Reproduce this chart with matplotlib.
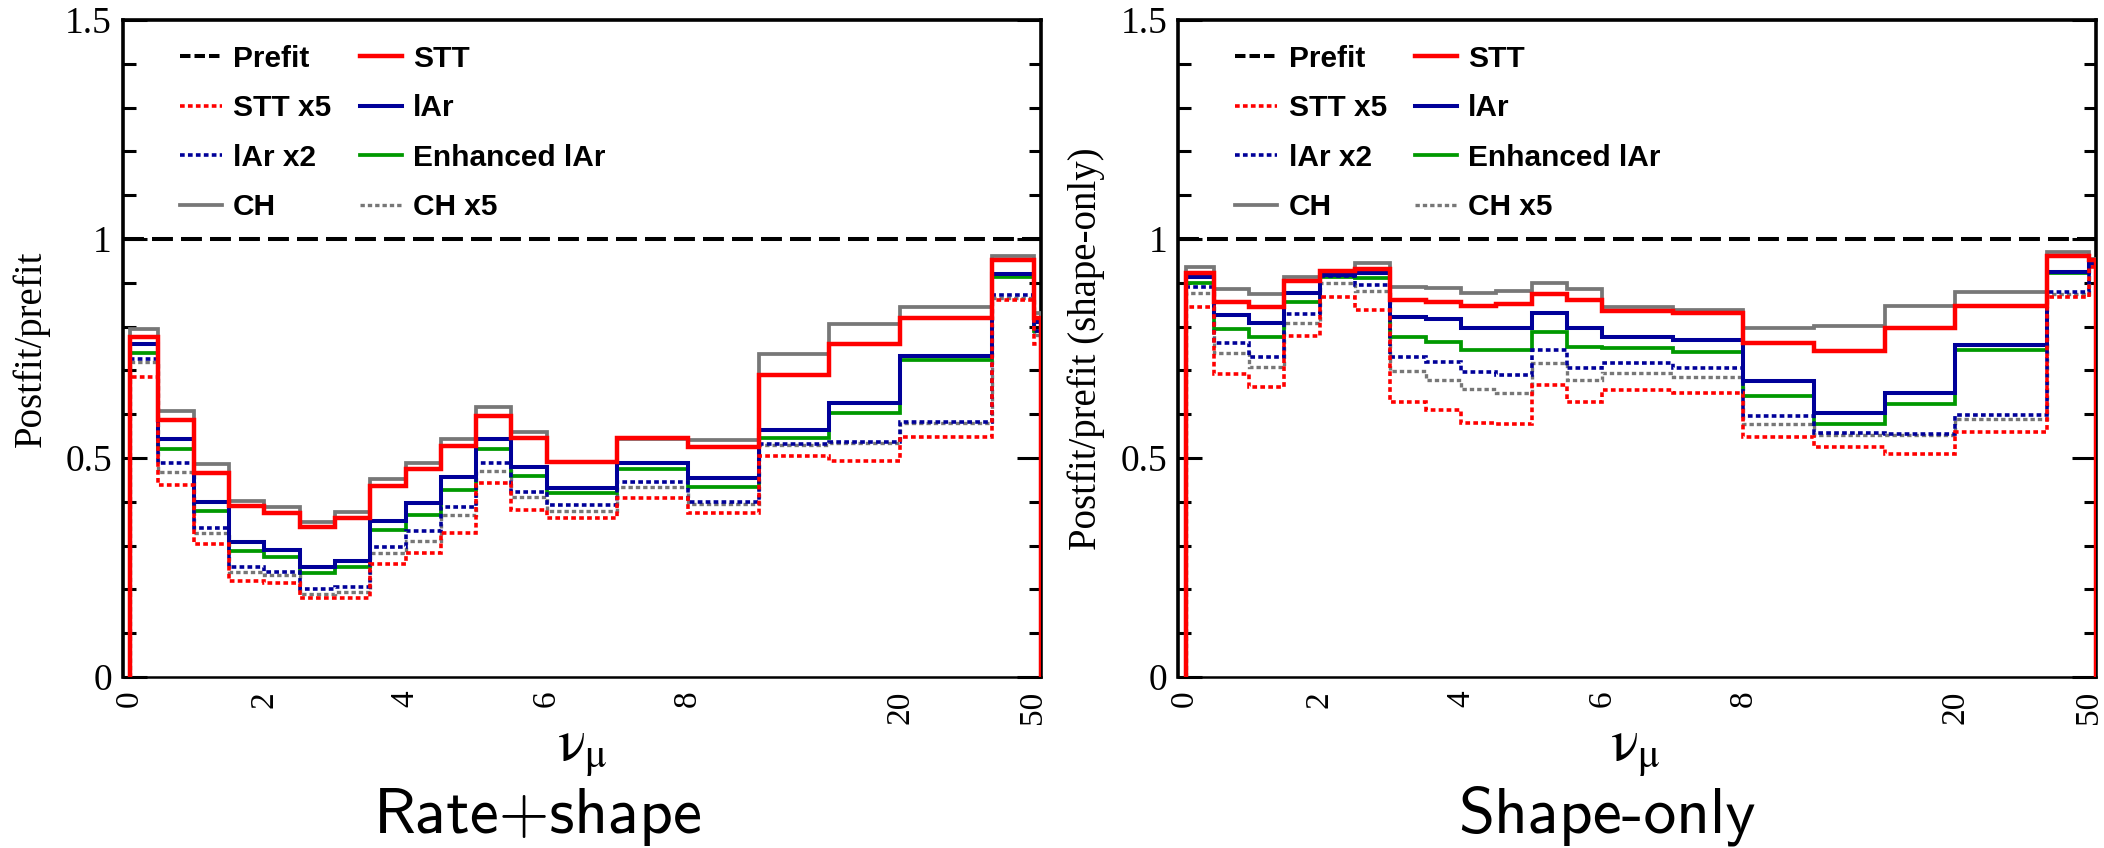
import matplotlib
matplotlib.use('Agg')
import matplotlib.pyplot as plt
from matplotlib.lines import Line2D
from matplotlib.ticker import MultipleLocator, FixedLocator
from matplotlib.transforms import ScaledTranslation

plt.rcParams['mathtext.fontset'] = 'stix'

# bin edges on the (compressed) display axis; labels mark 0..8, 20 and 50 GeV
bin_edges = [0.1, 0.5, 1.0, 1.5, 2.0, 2.5, 3.0, 3.5, 4.0, 4.5, 5.0, 5.5, 6.0,
             7.0, 8.0, 9.0, 10.0, 11.0, 12.3, 12.9, 13.0]
tick_pos = [0, 2, 4, 6, 8, 11, 13]
tick_labels = ['0', '2', '4', '6', '8', '20', '50']

# Rate+shape
ch_rs = [0.795, 0.607, 0.486, 0.402, 0.388, 0.354, 0.377, 0.452, 0.489, 0.543,
         0.617, 0.560, 0.490, 0.543, 0.541, 0.737, 0.806, 0.845, 0.961, 0.830]
ch5_rs = [0.720, 0.468, 0.328, 0.240, 0.233, 0.190, 0.195, 0.283, 0.310, 0.370,
          0.470, 0.410, 0.380, 0.433, 0.395, 0.530, 0.535, 0.580, 0.865, 0.780]
enh_rs = [0.740, 0.520, 0.379, 0.288, 0.274, 0.237, 0.250, 0.335, 0.370, 0.427,
          0.520, 0.459, 0.420, 0.474, 0.434, 0.546, 0.603, 0.724, 0.913, 0.790]
lar2_rs = [0.726, 0.488, 0.340, 0.252, 0.240, 0.200, 0.205, 0.297, 0.333, 0.388,
           0.488, 0.423, 0.393, 0.445, 0.400, 0.532, 0.537, 0.582, 0.872, 0.790]
lar_rs = [0.760, 0.543, 0.400, 0.308, 0.290, 0.250, 0.265, 0.356, 0.397, 0.457,
          0.543, 0.480, 0.431, 0.488, 0.455, 0.564, 0.626, 0.733, 0.920, 0.810]
stt5_rs = [0.685, 0.438, 0.304, 0.220, 0.214, 0.180, 0.180, 0.258, 0.283, 0.329,
           0.442, 0.381, 0.363, 0.408, 0.374, 0.505, 0.493, 0.548, 0.861, 0.760]
stt_rs = [0.776, 0.587, 0.466, 0.390, 0.374, 0.343, 0.363, 0.436, 0.474, 0.527,
          0.596, 0.545, 0.490, 0.545, 0.526, 0.690, 0.760, 0.820, 0.952, 0.820]

# Shape-only
ch_so = [0.936, 0.886, 0.874, 0.913, 0.925, 0.945, 0.890, 0.888, 0.877, 0.882,
         0.900, 0.886, 0.845, 0.838, 0.797, 0.801, 0.847, 0.879, 0.970, 0.955]
ch5_so = [0.877, 0.740, 0.708, 0.808, 0.900, 0.881, 0.699, 0.678, 0.658, 0.648,
          0.717, 0.678, 0.694, 0.685, 0.578, 0.553, 0.552, 0.590, 0.875, 0.940]
enh_so = [0.900, 0.794, 0.776, 0.856, 0.913, 0.910, 0.776, 0.765, 0.747, 0.747,
          0.788, 0.753, 0.751, 0.742, 0.642, 0.578, 0.623, 0.747, 0.922, 0.945]
lar2_so = [0.890, 0.763, 0.731, 0.829, 0.915, 0.895, 0.731, 0.720, 0.697, 0.690,
           0.747, 0.705, 0.717, 0.705, 0.596, 0.557, 0.555, 0.598, 0.879, 0.940]
lar_so = [0.913, 0.826, 0.808, 0.877, 0.918, 0.922, 0.822, 0.817, 0.797, 0.797,
          0.831, 0.797, 0.776, 0.769, 0.676, 0.603, 0.648, 0.758, 0.925, 0.945]
stt5_so = [0.845, 0.692, 0.662, 0.778, 0.868, 0.838, 0.628, 0.610, 0.580, 0.578,
           0.667, 0.628, 0.655, 0.648, 0.548, 0.525, 0.509, 0.559, 0.868, 0.935]
stt_so = [0.922, 0.856, 0.845, 0.904, 0.927, 0.931, 0.861, 0.856, 0.847, 0.852,
          0.874, 0.861, 0.836, 0.831, 0.763, 0.744, 0.797, 0.847, 0.960, 0.952]

prefit = 1.0

RED = '#ff0000'
BLUE = '#000099'
GREEN = '#009900'
GRAY = '#777777'
DOT = (0, (1.3, 0.9))

# draw order: gray first, red last (red sits on top)
styles = {
    'CH':           dict(color=GRAY, lw=2.7, ls='-'),
    'CH x5':        dict(color=GRAY, lw=2.4, ls=DOT),
    'Enhanced lAr': dict(color=GREEN, lw=2.7, ls='-'),
    'lAr x2':       dict(color=BLUE, lw=2.6, ls=DOT),
    'lAr':          dict(color=BLUE, lw=2.9, ls='-'),
    'STT x5':       dict(color=RED, lw=2.6, ls=DOT),
    'STT':          dict(color=RED, lw=3.2, ls='-'),
}
legend_order = ['Prefit', 'STT x5', 'lAr x2', 'CH', 'STT', 'lAr', 'Enhanced lAr', 'CH x5']

panels = [
    dict(data={'CH': ch_rs, 'CH x5': ch5_rs, 'Enhanced lAr': enh_rs, 'lAr x2': lar2_rs,
               'lAr': lar_rs, 'STT x5': stt5_rs, 'STT': stt_rs},
         ylabel='Postfit/prefit', title='Rate+shape',
         rect=[0.0585, 0.2017, 0.4363, 0.7748], title_x=0.2557, nu_x=0.2766),
    dict(data={'CH': ch_so, 'CH x5': ch5_so, 'Enhanced lAr': enh_so, 'lAr x2': lar2_so,
               'lAr': lar_so, 'STT x5': stt5_so, 'STT': stt_so},
         ylabel='Postfit/prefit (shape-only)', title='Shape-only',
         rect=[0.5601, 0.2017, 0.4363, 0.7748], title_x=0.7638, nu_x=0.7771),
]

fig = plt.figure(figsize=(21.04, 8.48), dpi=100)

for p in panels:
    ax = fig.add_axes(p['rect'])
    for name, st in styles.items():
        ax.stairs(p['data'][name], bin_edges, baseline=0, fill=False,
                  color=st['color'], lw=st['lw'], ls=st['ls'], zorder=3)
    ax.axhline(prefit, color='black', lw=2.9, ls=(0, (5.2, 2.0)), zorder=4)

    ax.set_xlim(0, 13.0)
    ax.set_ylim(0, 1.5)
    ax.xaxis.set_major_locator(FixedLocator(tick_pos))
    ax.set_xticklabels(tick_labels, rotation=90, family='Liberation Serif', fontsize=24)
    ax.tick_params(axis='x', length=0, pad=10)
    ax.yaxis.set_major_locator(MultipleLocator(0.5))
    ax.yaxis.set_minor_locator(MultipleLocator(0.1))
    ax.set_yticks([0, 0.5, 1.0, 1.5])
    ax.set_yticklabels(['0', '0.5', '1', '1.5'], family='Liberation Serif', fontsize=27)
    ax.tick_params(axis='y', which='both', direction='in', left=True, right=True, width=2.2, pad=8)
    ax.tick_params(axis='y', which='major', length=17)
    ax.tick_params(axis='y', which='minor', length=9)
    for side in ['top', 'left', 'right']:
        ax.spines[side].set_linewidth(2.6)
    ax.spines['bottom'].set_linewidth(1.8)

    # first and last x labels sit slightly inside the frame, as in the original
    xlabs = ax.get_xticklabels()
    xlabs[0].set_transform(xlabs[0].get_transform() + ScaledTranslation(0.06, 0, fig.dpi_scale_trans))
    xlabs[-1].set_transform(xlabs[-1].get_transform() + ScaledTranslation(-0.08, 0, fig.dpi_scale_trans))

    ax.set_ylabel(p['ylabel'], family='Liberation Serif', fontsize=28, labelpad=11)

    handles = []
    for name in legend_order:
        if name == 'Prefit':
            handles.append(Line2D([], [], color='black', lw=2.9, ls=(0, (2.6, 1.0))))
        else:
            st = styles[name]
            handles.append(Line2D([], [], color=st['color'], lw=st['lw'], ls=st['ls']))
    ax.legend(handles, legend_order, ncol=2, loc='upper left', frameon=False,
              bbox_to_anchor=(0.062, 0.962), borderaxespad=0, borderpad=0,
              prop={'family': 'Liberation Sans', 'weight': 'bold', 'size': 21.5},
              handlelength=1.4, handletextpad=0.38, columnspacing=0.95, labelspacing=0.72)

    fig.text(p['nu_x'], 0.104, r'$\mathrm{\nu}_{\mathrm{\mu}}$', fontsize=42,
             ha='center', va='baseline')
    fig.text(p['title_x'], 0.018, p['title'], family='cmss10', fontsize=47,
             ha='center', va='baseline')

fig.savefig('out.png', dpi=100)
